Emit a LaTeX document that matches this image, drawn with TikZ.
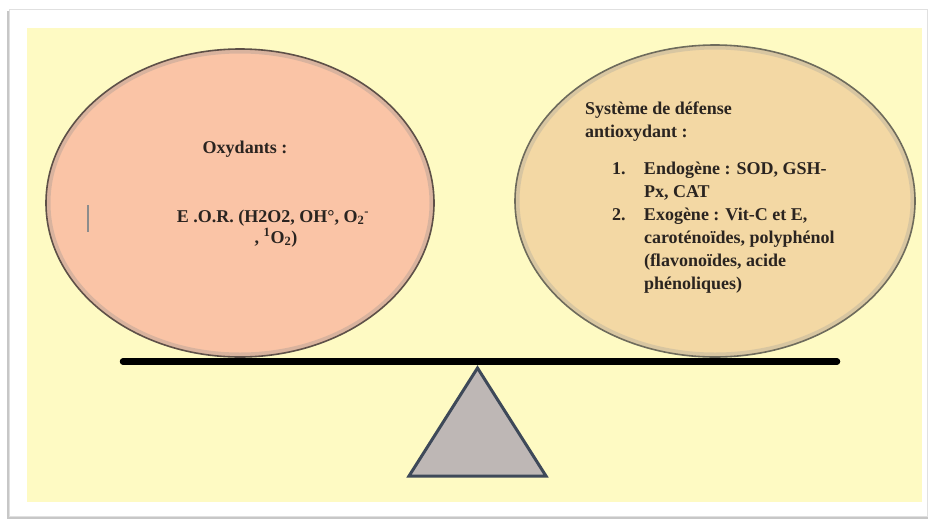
\documentclass[tikz,border=0pt]{standalone}
\usepackage{fontspec}
\setmainfont{Liberation Serif}
\definecolor{bgyellow}{HTML}{FEFAC3}
\definecolor{peach}{HTML}{FAC4A6}
\definecolor{tan}{HTML}{F3D8A4}
\definecolor{peachedge}{HTML}{5E5048}
\definecolor{tanedge}{HTML}{6E6B5C}
\definecolor{trifill}{HTML}{BEB7B5}
\definecolor{triedge}{HTML}{3E4959}
\definecolor{textcol}{HTML}{2A2420}
\tikzset{
  lbl/.style={inner sep=0pt, outer sep=0pt, text=textcol, font=\fontsize{18}{23}\selectfont\bfseries},
}
\begin{document}
\begin{tikzpicture}[x=1pt,y=-1pt]
\useasboundingbox (0,0) rectangle (931,520);
\fill[white] (0,0) rectangle (931,520);
% card with shadow
\fill[black!22] (7,11) rectangle (928,519);
\fill[white] (9,9) rectangle (927,516);
\draw[black!12, line width=0.6pt] (9,9) rectangle (927,516);
% yellow panel
\fill[bgyellow] (27,28) rectangle (922,502);
% left ellipse
\fill[peach] (240,203) ellipse [x radius=194, y radius=154];
\draw[peachedge!60, opacity=0.35, line width=4pt] (240,203) ellipse [x radius=191.5, y radius=151.5];
\draw[peachedge, line width=1.6pt] (240,203) ellipse [x radius=194, y radius=154];
% right ellipse
\fill[tan] (715,201) ellipse [x radius=200, y radius=156];
\draw[tanedge!60, opacity=0.35, line width=4pt] (715,201) ellipse [x radius=197.5, y radius=153.5];
\draw[tanedge, line width=1.6pt] (715,201) ellipse [x radius=200, y radius=156];
% cursor mark
\draw[black!45, line width=1.3pt] (88,205) -- (88,232);
% beam
\draw[black, line width=6.5pt, line cap=round] (123,361.5) -- (837,361.5);
% fulcrum
\filldraw[fill=trifill, draw=triedge, line width=3pt, line join=miter] (477.5,368) -- (546,476) -- (409,476) -- cycle;
% left texts
\node[lbl, anchor=base] (ox) at (245,153) {Oxydants :};
\node[lbl, anchor=base] (eor1) at (273,222) {E .O.R. (H2O2, OH°, O\textsubscript{2}\textsuperscript{-}};
\node[lbl, anchor=base] (eor2) at (276,243) {, \textsuperscript{1}O\textsubscript{2})};
% right texts
\node[lbl, anchor=base west] (sys) at (585,114) {\begin{tabular}[t]{@{}l@{}}Système de défense\\antioxydant :\end{tabular}};
\node[lbl, anchor=base west] (list) at (612,174) {\begin{tabular}[t]{@{}l@{\hspace{18.5pt}}l@{}}
1. & Endogène : SOD, GSH-\\
   & Px, CAT\\
2. & Exogène : Vit-C et E,\\
   & caroténoïdes, polyphénol\\
   & (flavonoïdes, acide\\
   & phénoliques)
\end{tabular}};
\end{tikzpicture}
\end{document}
